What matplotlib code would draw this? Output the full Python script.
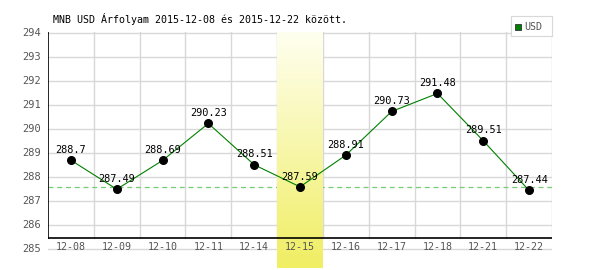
import numpy as np
import matplotlib
matplotlib.use("Agg")
import matplotlib.pyplot as plt
from matplotlib.colors import LinearSegmentedColormap

dates = ["12-08", "12-09", "12-10", "12-11", "12-14", "12-15",
         "12-16", "12-17", "12-18", "12-21", "12-22"]
usd = [288.7, 287.49, 288.69, 290.23, 288.51, 287.59,
       288.91, 290.73, 291.48, 289.51, 287.44]
value_labels = ["288.7", "287.49", "288.69", "290.23", "288.51", "287.59",
                "288.91", "290.73", "291.48", "289.51", "287.44"]
yticks = [285, 286, 287, 288, 289, 290, 291, 292, 293, 294]
highlight_idx = 5
ref_value = 287.59
title = "MNB USD Árfolyam 2015-12-08 és 2015-12-22 között."
legend_label = "USD"

mono = "DejaVu Sans Mono"
fs = 7.2
fig = plt.figure(figsize=(6, 2.7), dpi=100)
ax = fig.add_axes([48/600, 1-268/270, 504/600, 236/270])
ymin, ymax = 284.21, 294.04
xaxis_y = 285.46
n = len(dates)
ax.set_xlim(-0.5, n-0.5)
ax.set_ylim(ymin, ymax)
ax.axis("off")

# grid
for yv in yticks:
    ax.plot([-0.5, n-0.5], [yv, yv], color="#d8d8d8", lw=1, zorder=1)
    ax.text(-0.65, yv, str(yv), ha="right", va="center", fontsize=fs + 0.3,
            family=mono, color="#555555")
for k in range(1, n+1):
    ax.plot([k-0.5, k-0.5], [xaxis_y, ymax], color="#d8d8d8", lw=1, zorder=1)

# reference dashed line
ax.plot([-0.5, n-0.5], [ref_value, ref_value], color="#77cc77", lw=0.9,
        ls=(0, (4, 3)), zorder=2)

# highlight gradient band
cmap = LinearSegmentedColormap.from_list("hl", ["#fffff0", "#f0ee62"])
grad = np.linspace(0, 1, 256).reshape(-1, 1)
ax.imshow(grad, cmap=cmap, aspect="auto", origin="upper",
          extent=[highlight_idx-0.5, highlight_idx+0.5, ymin, ymax], zorder=3)
ax.set_xlim(-0.5, n-0.5)
ax.set_ylim(ymin, ymax)

# axes lines
ax.plot([-0.5, n-0.5], [xaxis_y, xaxis_y], color="black", lw=1.2, zorder=4)
ax.plot([-0.5, -0.5], [xaxis_y, ymax], color="black", lw=1.2, zorder=4)

# x labels
for i, d in enumerate(dates):
    ax.text(i, 285.1, d, ha="center", va="center", fontsize=fs,
            family=mono, color="#555555", zorder=5)

# data
x = np.arange(n)
ax.plot(x, usd, color="#008000", lw=0.8, zorder=5)
ax.scatter(x, usd, s=30, color="black", zorder=6)
for i, (v, lab) in enumerate(zip(usd, value_labels)):
    ax.text(i, v + 0.22, lab, ha="center", va="bottom", fontsize=fs + 0.2,
            family=mono, color="black", zorder=7)

fig.text(53/600, 1-19/270, title, ha="left", va="center", fontsize=fs,
         family=mono, color="black")

# legend
lax = fig.add_axes([511/600, 1-36/270, 41/600, 20/270])
lax.set_xlim(0, 41); lax.set_ylim(0, 20)
lax.set_xticks([]); lax.set_yticks([])
for s in lax.spines.values():
    s.set_color("#d8d8d8")
lax.add_patch(plt.Rectangle((4, 6.5), 6, 6, facecolor="#008000",
                            edgecolor="#333333", lw=0.6))
lax.text(13, 9.5, legend_label, ha="left", va="center", fontsize=fs,
         family=mono, color="#555555")

fig.savefig("out.png", dpi=100)
